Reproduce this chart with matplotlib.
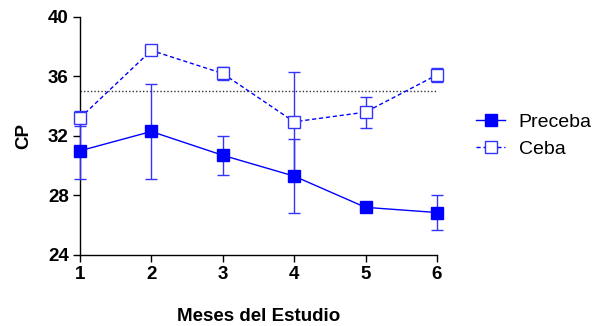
import matplotlib.pyplot as plt
from matplotlib.lines import Line2D

plt.rcParams['font.family'] = ['Liberation Sans', 'DejaVu Sans']

meses = [1, 2, 3, 4, 5, 6]
preceba = [31.0, 32.3, 30.7, 29.3, 27.2, 26.85]
preceba_err = [1.9, 3.2, 1.3, 2.5, 0.0, 1.2]
ceba = [33.2, 37.75, 36.2, 32.95, 33.6, 36.1]
ceba_err = [0.5, 0.2, 0.45, 3.35, 1.05, 0.45]
referencia = 35.0

azul = '#0000ff'

fig = plt.figure(figsize=(5.92, 3.26), dpi=100)
ax = fig.add_axes([0.135, 0.218, 0.603, 0.73])

ax.axhline(referencia, xmin=0, xmax=1, color='#333333', linestyle=(0, (1, 1.5)), linewidth=1)

ax.errorbar(meses, preceba, yerr=preceba_err, color=azul, ecolor='#3333ff', elinewidth=1,
            capsize=4, capthick=1, linewidth=1, marker='s', markersize=8,
            markerfacecolor=azul, markeredgecolor=azul, label='Preceba', zorder=3)
ax.errorbar(meses, ceba, yerr=ceba_err, color=azul, ecolor='#3333ff', elinewidth=1,
            capsize=4, capthick=1, linewidth=1, linestyle=(0, (3, 2)), marker='s', markersize=8,
            markerfacecolor='white', markeredgecolor='#3333ff', markeredgewidth=1,
            label='Ceba', zorder=3)

ax.set_xlim(1, 6)
ax.set_ylim(24, 40)
ax.set_xticks(meses)
ax.set_yticks([24, 28, 32, 36, 40])
ax.spines['top'].set_visible(False)
ax.spines['right'].set_visible(False)
for s in ('left', 'bottom'):
    ax.spines[s].set_linewidth(1)
    ax.spines[s].set_clip_on(False)
ax.tick_params(direction='out', length=5, width=1, labelsize=13.5, pad=3)
for lbl in ax.get_xticklabels() + ax.get_yticklabels():
    lbl.set_fontweight('bold')
ax.set_xlabel('Meses del Estudio', fontsize=13.5, fontweight='bold', labelpad=18)
ax.set_ylabel('CP', fontsize=13.5, fontweight='bold', labelpad=11)
for line in ax.lines:
    line.set_clip_on(False)
for c in ax.collections:
    c.set_clip_on(False)

handles = [
    Line2D([], [], color=azul, marker='s', markersize=8, linewidth=1,
           markerfacecolor=azul, markeredgecolor=azul),
    Line2D([], [], color=azul, marker='s', markersize=8, linewidth=1, linestyle=(0, (3, 2)),
           markerfacecolor='white', markeredgecolor='#3333ff'),
]
fig.legend(handles, ['Preceba', 'Ceba'], loc='upper left', bbox_to_anchor=(0.804, 0.653),
           frameon=False, fontsize=14, handlelength=1.5, handletextpad=0.7,
           labelspacing=0.5, borderpad=0, borderaxespad=0)

fig.savefig('out.png', dpi=100)
